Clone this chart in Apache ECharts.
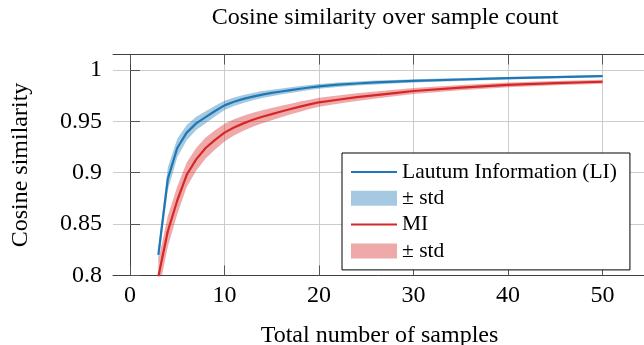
<!DOCTYPE html>
<html>
<head>
<meta charset="utf-8">
<script src="https://cdn.jsdelivr.net/npm/echarts@6/dist/echarts.min.js"></script>
<style>
  html, body { margin: 0; padding: 0; background: #fff; }
  #chart { width: 644px; height: 345px; }
</style>
</head>
<body>
<div id="chart"></div>
<script>
// sample counts on the x axis
const xSamples = [3, 4, 5, 6, 7, 8, 9, 10, 11, 12, 13, 14, 15, 16, 17, 18, 19, 20, 22, 24, 26, 28, 30, 35, 40, 45, 50];
// Lautum Information (LI)
const liMean = [0.820, 0.894, 0.924, 0.939, 0.948, 0.954, 0.960, 0.9655, 0.969, 0.9718, 0.974, 0.976, 0.9776, 0.979, 0.9804, 0.9817, 0.9829, 0.984, 0.9856, 0.9868, 0.9878, 0.9886, 0.9893, 0.9907, 0.992, 0.993, 0.994];
const liStd = [0.007, 0.011, 0.009, 0.0075, 0.0065, 0.0058, 0.0052, 0.0046, 0.0042, 0.0039, 0.0036, 0.0034, 0.0032, 0.003, 0.0028, 0.0027, 0.0025, 0.0024, 0.0022, 0.002, 0.0019, 0.0017, 0.0016, 0.0014, 0.0012, 0.0011, 0.001];
// MI
const miMean = [0.799, 0.843, 0.873, 0.898, 0.913, 0.924, 0.932, 0.939, 0.944, 0.948, 0.9515, 0.9545, 0.957, 0.9595, 0.962, 0.9643, 0.9665, 0.9685, 0.971, 0.9735, 0.9755, 0.9775, 0.9795, 0.9828, 0.9855, 0.9872, 0.9885];
const miStd = [0.016, 0.015, 0.0135, 0.012, 0.011, 0.0102, 0.0094, 0.0086, 0.0079, 0.0073, 0.0068, 0.0063, 0.0059, 0.0056, 0.0052, 0.0049, 0.0046, 0.0044, 0.004, 0.0037, 0.0034, 0.0032, 0.003, 0.0026, 0.0023, 0.0021, 0.002];
// tick labels
const xTicks = [0, 10, 20, 30, 40, 50];
const yTicks = [0.8, 0.85, 0.9, 0.95, 1];

const FONT = 'Liberation Serif';
const BLUE = '#1f77b4';
const RED = '#d62728';

const pairs = (xs, ys) => xs.map((x, i) => [x, ys[i]]);
const bandData = (mean, std) => xSamples.map((x, i) => [x, mean[i] - std[i], mean[i] + std[i]]);

// one polygon for the whole ± std band
const bandRenderer = (mean, std, fill) => (params, api) => {
  if (params.dataIndex !== 0) return;
  const upper = xSamples.map((x, i) => api.coord([x, mean[i] + std[i]]));
  const lower = xSamples.map((x, i) => api.coord([x, mean[i] - std[i]])).reverse();
  return {
    type: 'polygon',
    shape: { points: upper.concat(lower) },
    style: { fill: fill }
  };
};

const chart = echarts.init(document.getElementById('chart'));

const option = {
  animation: false,
  title: {
    text: 'Cosine similarity over sample count',
    left: 380,
    top: 1,
    textAlign: 'center',
    textStyle: { fontFamily: FONT, fontSize: 24, fontWeight: 'normal', color: '#000' }
  },
  grid: { left: 113, right: -2, top: 54.5, bottom: 69.5, outerBoundsMode: 'none' },
  xAxis: [
    {
      type: 'value',
      min: -1.8,
      max: 54.6,
      name: 'Total number of samples',
      nameLocation: 'middle',
      nameGap: 48,
      nameTextStyle: { fontFamily: FONT, fontSize: 24, color: '#000' },
      axisLine: { lineStyle: { color: '#404040', width: 1 } },
      axisTick: { inside: true, length: 10, customValues: xTicks, lineStyle: { color: '#555' } },
      axisLabel: { customValues: xTicks, margin: 8, fontFamily: FONT, fontSize: 24, color: '#000' },
      splitLine: { show: true, lineStyle: { color: '#cccccc', width: 1 } }
    },
    {
      type: 'value',
      position: 'top',
      min: -1.8,
      max: 54.6,
      axisLine: { show: true, lineStyle: { color: '#404040', width: 1 } },
      axisTick: { inside: true, length: 10, customValues: xTicks, lineStyle: { color: '#555' } },
      axisLabel: { show: false },
      splitLine: { show: false }
    }
  ],
  yAxis: [
    {
      type: 'value',
      min: 0.8,
      max: 1.015,
      name: 'Cosine similarity',
      nameLocation: 'middle',
      nameGap: 80,
      nameTextStyle: { fontFamily: FONT, fontSize: 24, color: '#000' },
      axisLine: { show: true, lineStyle: { color: '#404040', width: 1 } },
      axisTick: { show: true, inside: true, length: 10, customValues: yTicks, lineStyle: { color: '#555' } },
      axisLabel: { customValues: yTicks, margin: 11, fontFamily: FONT, fontSize: 24, color: '#000' },
      splitLine: { show: true, lineStyle: { color: '#cccccc', width: 1 } }
    }
  ],
  legend: {
    orient: 'vertical',
    left: 342,
    top: 153,
    padding: [8, 13, 8, 9],
    itemGap: 4.3,
    itemWidth: 46,
    itemHeight: 15,
    borderColor: '#000',
    borderWidth: 1,
    backgroundColor: '#fff',
    textStyle: { fontFamily: FONT, fontSize: 21.5, color: '#000' },
    formatter: name => (name === 'LI std' || name === 'MI std') ? '\u00b1 std' : name,
    data: [
      { name: 'Lautum Information (LI)', icon: 'path://M0,0H46V2H0Z' },
      { name: 'LI std', icon: 'rect', itemStyle: { color: 'rgba(31,119,180,0.4)' } },
      { name: 'MI', icon: 'path://M0,0H46V2H0Z' },
      { name: 'MI std', icon: 'rect', itemStyle: { color: 'rgba(214,39,40,0.4)' } }
    ]
  },
  series: [
    {
      name: 'LI std',
      type: 'custom',
      clip: true,
      z: 1,
      itemStyle: { color: 'rgba(31,119,180,0.4)' },
      encode: { x: 0, y: [1, 2] },
      data: bandData(liMean, liStd),
      renderItem: bandRenderer(liMean, liStd, 'rgba(31,119,180,0.4)')
    },
    {
      name: 'MI std',
      type: 'custom',
      clip: true,
      z: 1,
      itemStyle: { color: 'rgba(214,39,40,0.4)' },
      encode: { x: 0, y: [1, 2] },
      data: bandData(miMean, miStd),
      renderItem: bandRenderer(miMean, miStd, 'rgba(214,39,40,0.4)')
    },
    {
      name: 'Lautum Information (LI)',
      type: 'line',
      z: 3,
      showSymbol: false,
      color: BLUE,
      lineStyle: { color: BLUE, width: 2.2 },
      data: pairs(xSamples, liMean)
    },
    {
      name: 'MI',
      type: 'line',
      z: 3,
      showSymbol: false,
      color: RED,
      lineStyle: { color: RED, width: 2.2 },
      data: pairs(xSamples, miMean)
    }
  ]
};

chart.setOption(option);
</script>
</body>
</html>
